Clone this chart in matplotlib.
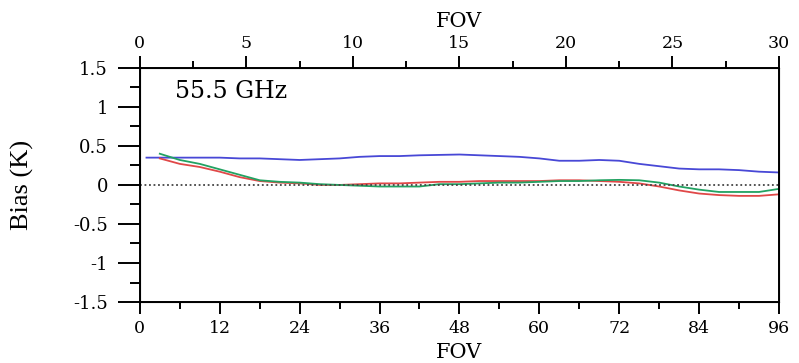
import matplotlib
matplotlib.use("Agg")
import matplotlib.pyplot as plt
from matplotlib.ticker import MultipleLocator

plt.rcParams['font.family'] = ['DejaVu Serif']

# FOV positions and bias values
fov_blue = [1, 3, 6, 9, 12, 15, 18, 21, 24, 27, 30, 33, 36, 39, 42, 45, 48, 51, 54, 57, 60,
            63, 66, 69, 72, 75, 78, 81, 84, 87, 90, 93, 96]
bias_blue = [0.35, 0.35, 0.35, 0.35, 0.35, 0.34, 0.34, 0.33, 0.32, 0.33, 0.34, 0.36, 0.37, 0.37, 0.38,
             0.385, 0.39, 0.38, 0.37, 0.36, 0.34, 0.31, 0.31, 0.32, 0.31, 0.27, 0.24, 0.21, 0.20,
             0.20, 0.19, 0.17, 0.16]

fov_rg = [3, 6, 9, 12, 15, 18, 21, 24, 27, 30, 33, 36, 39, 42, 45, 48, 51, 54, 57, 60,
          63, 66, 69, 72, 75, 78, 81, 84, 87, 90, 93, 96]
bias_red = [0.34, 0.27, 0.23, 0.17, 0.10, 0.05, 0.03, 0.02, 0.0, 0.0, 0.01, 0.02, 0.02, 0.03, 0.04,
            0.04, 0.05, 0.05, 0.05, 0.05, 0.06, 0.06, 0.05, 0.04, 0.02, -0.02, -0.07, -0.11, -0.13,
            -0.14, -0.14, -0.12]
bias_green = [0.40, 0.32, 0.27, 0.20, 0.13, 0.06, 0.04, 0.03, 0.01, 0.0, -0.01, -0.02, -0.02, -0.02,
              0.01, 0.01, 0.02, 0.03, 0.03, 0.04, 0.05, 0.05, 0.06, 0.065, 0.06, 0.03, -0.02, -0.06,
              -0.09, -0.09, -0.09, -0.05]

fig = plt.figure(figsize=(7.99, 3.63), dpi=100)
ax = fig.add_axes([0.175, 0.168, 0.80, 0.645])

ax.plot(fov_blue, bias_blue, color='#4848d6', lw=1.3)
ax.plot(fov_rg, bias_red, color='#e04848', lw=1.3)
ax.plot(fov_rg, bias_green, color='#22a262', lw=1.3)
ax.axhline(0, color='#444444', ls=(0, (1, 1.5)), lw=1.3)

ax.set_xlim(0, 96)
ax.set_ylim(-1.5, 1.5)
ax.xaxis.set_major_locator(MultipleLocator(12))
ax.xaxis.set_minor_locator(MultipleLocator(6))
ax.yaxis.set_major_locator(MultipleLocator(0.5))
ax.yaxis.set_minor_locator(MultipleLocator(0.25))
ax.yaxis.set_major_formatter(plt.FuncFormatter(lambda v, p: f"{v:g}"))
ax.tick_params(which='both', direction='out', width=1.4, labelsize=13)
ax.tick_params(axis='x', which='major', length=8.6, pad=4, labelsize=12.5)
ax.tick_params(axis='x', which='minor', length=4.7)
ax.tick_params(axis='y', which='major', length=16, pad=7)
ax.tick_params(axis='y', which='minor', length=7.5)
ax.set_xlabel("FOV", fontsize=15, va='center')
ax.xaxis.set_label_coords(0.5, -0.215)
ax.set_ylabel("Bias (K)", fontsize=19, family='Liberation Serif', va='center')
ax.yaxis.set_label_coords(-0.183, 0.5)
for s in ax.spines.values():
    s.set_linewidth(1.4)

ax2 = ax.twiny()
ax2.set_xlim(0, 30)
ax2.xaxis.set_major_locator(MultipleLocator(5))
ax2.xaxis.set_minor_locator(MultipleLocator(2.5))
ax2.tick_params(which='both', direction='out', width=1.4, labelsize=12.5)
ax2.tick_params(which='major', length=8.6, pad=3)
ax2.tick_params(which='minor', length=4.7)
ax2.set_xlabel("FOV", fontsize=15, va='center')
ax2.xaxis.set_label_coords(0.5, 1.2)

ax.text(0.055, 0.9, "55.5 GHz", transform=ax.transAxes, fontsize=17, va='center')

fig.savefig("out.png")
